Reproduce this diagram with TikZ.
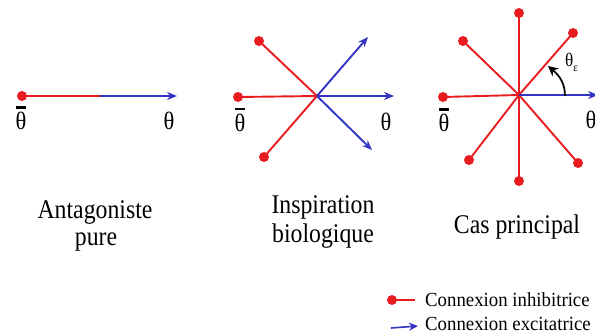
\documentclass[tikz,border=0pt]{standalone}
\usepackage{fontspec}
\setmainfont{Liberation Serif}
\usetikzlibrary{arrows.meta}
\definecolor{inhred}{RGB}{232,28,32}
\definecolor{excblue}{RGB}{52,52,196}
\newcommand{\thb}{\vbox{\hrule height 2.2pt\kern 3.5pt\hbox{θ}}}
\tikzset{
  inh/.style={draw=inhred, line width=1.9pt},
  exc/.style={draw=excblue, line width=1.9pt, -{Stealth[length=10pt,width=8pt]}},
  dot/.style={circle, fill=inhred, inner sep=0pt, minimum size=10pt},
  lab/.style={font=\fontsize{25}{26}\selectfont, inner sep=0pt, anchor=base, xscale=0.9},
  captext/.style={font=\fontsize{27}{29}\selectfont, inner sep=0pt, anchor=base, xscale=0.88},
  leg/.style={font=\fontsize{20}{22}\selectfont, anchor=base west, inner sep=0pt, xscale=0.94}
}
\begin{document}
\begin{tikzpicture}[x=1pt,y=-1pt]
\useasboundingbox (0,0) rectangle (595,335);
% Panel 1
\node[dot] (p1d) at (22,96) {};
\coordinate (p1m) at (100,96);
\coordinate (p1t) at (177,96);
\draw[inh] (p1d.center) -- (p1m);
\draw[exc] (p1m) -- (p1t);
\node[lab] (p1tb) at (21,129.5) {\thb};
\node[lab] (p1th) at (169,129.5) {θ};
\node[captext] (cap1a) at (95,218) {Antagoniste};
\node[captext] (cap1b) at (96,245) {pure};
% Panel 2
\coordinate (c2) at (317,96);
\node[dot] (p2a) at (259,41) {};
\node[dot] (p2b) at (238,97) {};
\node[dot] (p2c) at (264,157) {};
\coordinate (p2x) at (368,37);
\coordinate (p2y) at (394,96);
\coordinate (p2z) at (372,150);
\draw[inh] (p2a.center) -- (c2);
\draw[inh] (p2b.center) -- (c2);
\draw[inh] (p2c.center) -- (c2);
\draw[exc] (c2) -- (p2x);
\draw[exc] (c2) -- (p2y);
\draw[exc] (c2) -- (p2z);
\node[lab] (p2tb) at (240,131) {\thb};
\node[lab] (p2th) at (386,130) {θ};
\node[captext] (cap2a) at (323,213) {Inspiration};
\node[captext] (cap2b) at (323,242) {biologique};
% Panel 3
\coordinate (c3) at (519,95);
\node[dot] (q1) at (519,13) {};
\node[dot] (q2) at (463,41) {};
\node[dot] (q3) at (573,33) {};
\node[dot] (q4) at (443,97) {};
\node[dot] (q5) at (469,160) {};
\node[dot] (q6) at (519,181) {};
\node[dot] (q7) at (578,163) {};
\coordinate (q8) at (598,95);
\foreach \q in {q1,q2,q3,q4,q5,q6,q7}{\draw[inh] (\q.center) -- (c3);}
\draw[exc] (c3) -- (q8);
\coordinate (ang1) at (565,96);
\coordinate (ang2) at (548,66);
\draw[black, line width=1.7pt, -{Stealth[length=10pt,width=10pt]}] (ang1) .. controls (565,84) and (560,76) .. (ang2);
\node[font=\fontsize{19}{19}\selectfont, inner sep=0pt, anchor=base west, xscale=0.9] (p3te) at (565,66) {θ\raisebox{-5pt}{\fontsize{12}{12}\selectfont ε}};
\node[lab] (p3tb) at (444,131.5) {\thb};
\node[lab] (p3th) at (591,128) {θ};
\node[captext] (cap3) at (517,233) {Cas principal};
% Legend
\node[dot] (l1d) at (392,300) {};
\coordinate (l1e) at (415,300);
\draw[inh] (l1d.center) -- (l1e);
\node[leg] (l1t) at (425,306) {Connexion inhibitrice};
\coordinate (l2s) at (391,328);
\coordinate (l2e) at (418,326);
\draw[exc, line width=1.6pt, -{Stealth[length=9pt,width=8pt]}] (l2s) -- (l2e);
\node[leg] (l2t) at (425,330) {Connexion excitatrice};
\end{tikzpicture}
\end{document}
